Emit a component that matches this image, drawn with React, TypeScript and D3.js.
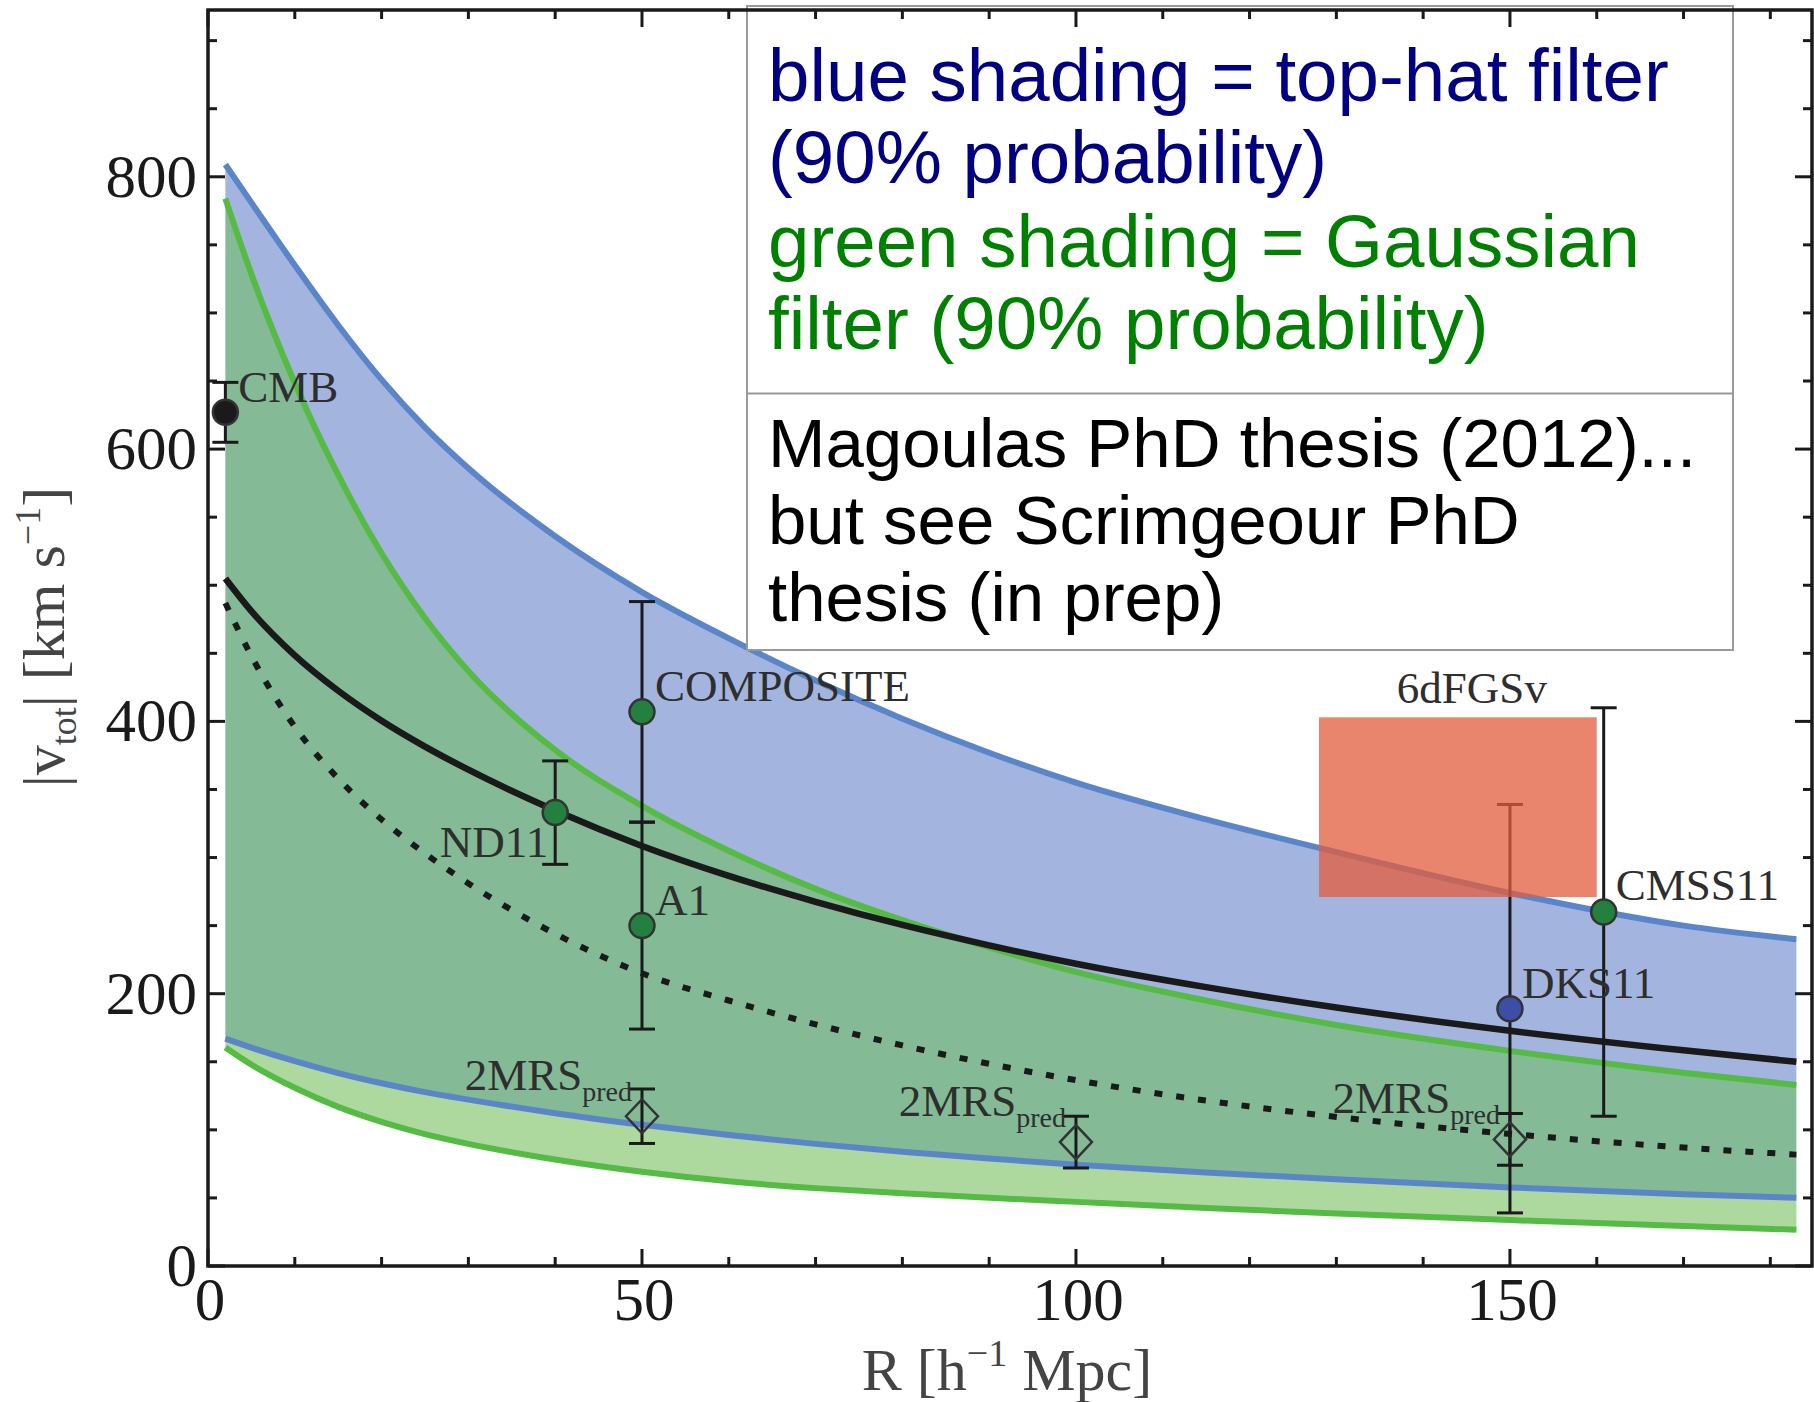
import React from 'react';
import * as d3 from 'd3';

const W = 1814;
const H = 1402;

// Common radius grid (h^-1 Mpc) on which the curves were read
const R_GRID = [2, 5, 10, 15, 20, 25, 30, 40, 50, 60, 70, 80, 90, 100, 115, 130, 150, 170, 183];
// top-hat filter 90% band (blue)
const TOPHAT_UPPER = [809, 781, 735, 691, 651, 616, 586, 536, 495, 461, 430, 402, 377, 355, 328, 304, 274, 250, 240];
const TOPHAT_LOWER = [167, 160.4, 150.4, 141.7, 134.2, 127.7, 122.2, 112.2, 103.7, 96.2, 89.7, 83.9, 78.9, 74.4, 68.7, 63.7, 57.7, 52.7, 50.1];
// Gaussian filter 90% band (green)
const GAUSS_UPPER = [784, 728.5, 648.5, 581, 523.5, 476, 437, 379, 338, 305, 277, 254, 234, 216, 195, 177, 158, 142, 133];
const GAUSS_LOWER = [160.5, 147.9, 130.9, 116.9, 105.9, 96.9, 89.7, 78.2, 69.2, 62.2, 57.2, 53.4, 50.1, 47.1, 42.6, 38.5, 33.7, 29.3, 26.7];
// black solid and dotted curves
const SOLID_CURVE = [505, 481, 448.5, 422.5, 400.5, 381.5, 364.5, 334.5, 308.5, 286.5, 267.5, 250.5, 235.5, 222, 204.8, 189.8, 172.8, 158.4, 150];
const DOTTED_CURVE = [487, 448, 396, 358, 328, 303, 281, 244, 215, 195, 177.5, 162, 148.5, 136.5, 121.5, 109.5, 97, 87, 81.8];

// measurements
const POINT_NAMES = ['CMB', 'ND11', 'COMPOSITE', 'A1', 'DKS11', 'CMSS11'];
const POINT_R = [2, 40, 50, 50, 150, 160.8];
const POINT_V = [627, 333, 407, 250, 189, 260];
const POINT_ERR = [22, 38, 81, 76, 150, 150];
const POINT_KIND = ['cmb', 'green', 'green', 'green', 'blue', 'green'];

// 2MRS predictions (open diamonds)
const PRED_R = [50, 100, 150];
const PRED_V = [110, 91, 93];
const PRED_ERR = [20, 19, 19];

// 6dFGSv box
const BOX_R = [128, 160];
const BOX_V = [271, 403];

const X_TICKS_MAJOR = [0, 50, 100, 150];
const Y_TICKS_MAJOR = [0, 200, 400, 600, 800];

const LEGEND_TOP = ['blue shading = top-hat filter', '(90% probability)'];
const LEGEND_MID = ['green shading = Gaussian', 'filter (90% probability)'];
const LEGEND_BOT = ['Magoulas PhD thesis (2012)...', 'but see Scrimgeour PhD', 'thesis (in prep)'];

const SERIF = '"Liberation Serif", "DejaVu Serif", serif';
const SANS = '"Liberation Sans", Arial, sans-serif';

export default function App() {
  const x = d3.scaleLinear().domain([0, 184.8]).range([208, 1812]);
  const y = d3.scaleLinear().domain([0, 922.5]).range([1266, 10]);
  const idx = R_GRID.map((_, i) => i);

  const band = (top: number[], bot: number[]) =>
    d3
      .area<number>()
      .x((i) => x(R_GRID[i]))
      .y0((i) => y(bot[i]))
      .y1((i) => y(top[i]))
      .curve(d3.curveMonotoneX)(idx) as string;
  const line = (vals: number[]) =>
    d3
      .line<number>()
      .x((i) => x(R_GRID[i]))
      .y((i) => y(vals[i]))
      .curve(d3.curveMonotoneX)(idx) as string;

  const L = x(0);
  const Rr = x(184.8);
  const T = y(922.5);
  const B = y(0);

  const xMinor = d3.range(0, 185, 10);
  const yMinor = d3.range(0, 923, 50);

  const cap = 13;
  const labelColor = '#2e2e2e';

  const pointFill: Record<string, string> = { cmb: '#1a1a1a', green: '#23803f', blue: '#3d4ea6' };

  const labelPos: Record<string, { dx: number; dy: number; anchor: string }> = {
    CMB: { dx: 13, dy: -10, anchor: 'start' },
    ND11: { dx: -7, dy: 44, anchor: 'end' },
    COMPOSITE: { dx: 13, dy: -11, anchor: 'start' },
    A1: { dx: 13, dy: -11, anchor: 'start' },
    DKS11: { dx: 12, dy: -11, anchor: 'start' },
    CMSS11: { dx: 12, dy: -12, anchor: 'start' },
  };

  return (
    <svg
      width={W}
      height={H}
      viewBox={`0 0 ${W} ${H}`}
      style={{ position: 'absolute', left: 0, top: 0, display: 'block', background: '#fff' }}
    >
      {/* bands */}
      <path d={band(TOPHAT_UPPER, GAUSS_UPPER)} fill="#a3b5de" />
      <path d={band(GAUSS_UPPER, TOPHAT_LOWER)} fill="#84ba96" />
      <path d={band(TOPHAT_LOWER, GAUSS_LOWER)} fill="#add99e" />

      {/* band edges */}
      <path d={line(GAUSS_UPPER)} fill="none" stroke="#55bb44" strokeWidth={6} />
      <path d={line(GAUSS_LOWER)} fill="none" stroke="#55bb44" strokeWidth={6} />
      <path d={line(TOPHAT_UPPER)} fill="none" stroke="#5a86c9" strokeWidth={6} />
      <path d={line(TOPHAT_LOWER)} fill="none" stroke="#5a86c9" strokeWidth={6} />

      {/* model curves */}
      <path d={line(SOLID_CURVE)} fill="none" stroke="#1a1a1a" strokeWidth={6.5} />
      <path d={line(DOTTED_CURVE)} fill="none" stroke="#1a1a1a" strokeWidth={6} strokeDasharray="8 14" />

      {/* error bars */}
      {POINT_R.map((r, i) => {
        const cx = x(r);
        const y1 = y(POINT_V[i] + POINT_ERR[i]);
        const y2 = y(POINT_V[i] - POINT_ERR[i]);
        return (
          <g key={`eb${i}`} stroke="#1a1a1a" strokeWidth={3}>
            <line x1={cx} x2={cx} y1={y1} y2={y2} />
            <line x1={cx - cap} x2={cx + cap} y1={y1} y2={y1} />
            <line x1={cx - cap} x2={cx + cap} y1={y2} y2={y2} />
          </g>
        );
      })}
      {PRED_R.map((r, i) => {
        const cx = x(r);
        const y1 = y(PRED_V[i] + PRED_ERR[i]);
        const y2 = y(PRED_V[i] - PRED_ERR[i]);
        return (
          <g key={`pb${i}`} stroke="#1a1a1a" strokeWidth={3}>
            <line x1={cx} x2={cx} y1={y1} y2={y2} />
            <line x1={cx - cap} x2={cx + cap} y1={y1} y2={y1} />
            <line x1={cx - cap} x2={cx + cap} y1={y2} y2={y2} />
          </g>
        );
      })}

      {/* points */}
      {POINT_R.map((r, i) => (
        <circle
          key={`pt${i}`}
          cx={x(r)}
          cy={y(POINT_V[i])}
          r={12.5}
          fill={pointFill[POINT_KIND[i]]}
          stroke="#333"
          strokeWidth={2.5}
        />
      ))}
      {PRED_R.map((r, i) => {
        const cx = x(r);
        const cy = y(PRED_V[i]);
        return (
          <path
            key={`dm${i}`}
            d={`M${cx},${cy - 17}L${cx + 16},${cy}L${cx},${cy + 17}L${cx - 16},${cy}Z`}
            fill="none"
            stroke="#333"
            strokeWidth={2.5}
          />
        );
      })}

      {/* 6dFGSv box */}
      <rect
        x={x(BOX_R[0])}
        y={y(BOX_V[1])}
        width={x(BOX_R[1]) - x(BOX_R[0])}
        height={y(BOX_V[0]) - y(BOX_V[1])}
        fill="rgb(227,92,60)"
        fillOpacity={0.75}
      />

      {/* data labels */}
      <g fontFamily={SERIF} fontSize={45} fill={labelColor}>
        {POINT_NAMES.map((name, i) => {
          const p = labelPos[name];
          return (
            <text
              key={`lb${i}`}
              x={x(POINT_R[i]) + p.dx}
              y={y(POINT_V[i]) + p.dy}
              textAnchor={p.anchor as any}
            >
              {name}
            </text>
          );
        })}
        <text x={(x(BOX_R[0]) + x(BOX_R[1])) / 2 + 14} y={y(BOX_V[1]) - 14} textAnchor="middle">
          6dFGSv
        </text>
        {PRED_R.map((r, i) => (
          <text key={`pl${i}`} x={x(r) - 10} y={y(PRED_V[i]) - 26} textAnchor="end">
            2MRS
            <tspan fontSize={28} dy={11}>
              pred
            </tspan>
          </text>
        ))}
      </g>

      {/* legend box */}
      <g>
        <rect x={747} y={6} width={986} height={644} fill="#fff" stroke="#999" strokeWidth={2} />
        <line x1={747} x2={1733} y1={393.5} y2={393.5} stroke="#999" strokeWidth={2} />
        <g fontFamily={SANS} fontSize={74.5}>
          {LEGEND_TOP.map((t, i) => (
            <text key={`lt${i}`} x={768} y={101 + i * 82} fill="#000080">
              {t}
            </text>
          ))}
          {LEGEND_MID.map((t, i) => (
            <text key={`lm${i}`} x={768} y={267 + i * 82} fill="#008000">
              {t}
            </text>
          ))}
        </g>
        <g fontFamily={SANS} fontSize={69} fill="#000">
          {LEGEND_BOT.map((t, i) => (
            <text key={`lb${i}`} x={768} y={467 + i * 77}>
              {t}
            </text>
          ))}
        </g>
      </g>

      {/* frame and ticks */}
      <g stroke="#1a1a1a" strokeWidth={3}>
        {xMinor.map((v) => {
          const len = v % 50 === 0 ? 17 : 9;
          return (
            <g key={`xt${v}`}>
              <line x1={x(v)} x2={x(v)} y1={B} y2={B - len} />
              <line x1={x(v)} x2={x(v)} y1={T} y2={T + len} />
            </g>
          );
        })}
        {yMinor.map((v) => {
          const len = v % 200 === 0 ? 17 : 9;
          return (
            <g key={`yt${v}`}>
              <line x1={L} x2={L + len} y1={y(v)} y2={y(v)} />
              <line x1={Rr} x2={Rr - len} y1={y(v)} y2={y(v)} />
            </g>
          );
        })}
      </g>
      <rect x={L} y={T} width={Rr - L} height={B - T} fill="none" stroke="#1a1a1a" strokeWidth={3.5} />

      {/* tick labels */}
      <g fontFamily={SERIF} fontSize={61} fill="#1a1a1a">
        {X_TICKS_MAJOR.map((v) => (
          <text key={`xl${v}`} x={x(v) + 2} y={1320} textAnchor="middle">
            {v}
          </text>
        ))}
        {Y_TICKS_MAJOR.map((v) => (
          <text key={`yl${v}`} x={197} y={y(v) + 20} textAnchor="end">
            {v}
          </text>
        ))}
      </g>

      {/* axis titles */}
      <text x={1007} y={1390} fontFamily={SERIF} fontSize={60} fill="#444" textAnchor="middle">
        R [h
        <tspan fontSize={38} dy={-24}>
          −1
        </tspan>
        <tspan dy={24}> Mpc]</tspan>
      </text>
      <text
        transform="translate(64,637) rotate(-90)"
        fontFamily={SERIF}
        fontSize={60}
        fill="#444"
        textAnchor="middle"
      >
        |v
        <tspan fontSize={36} dy={12}>
          tot
        </tspan>
        <tspan dy={-12}>| [km s</tspan>
        <tspan fontSize={36} dy={-24}>
          −1
        </tspan>
        <tspan dy={24}>]</tspan>
      </text>
    </svg>
  );
}
